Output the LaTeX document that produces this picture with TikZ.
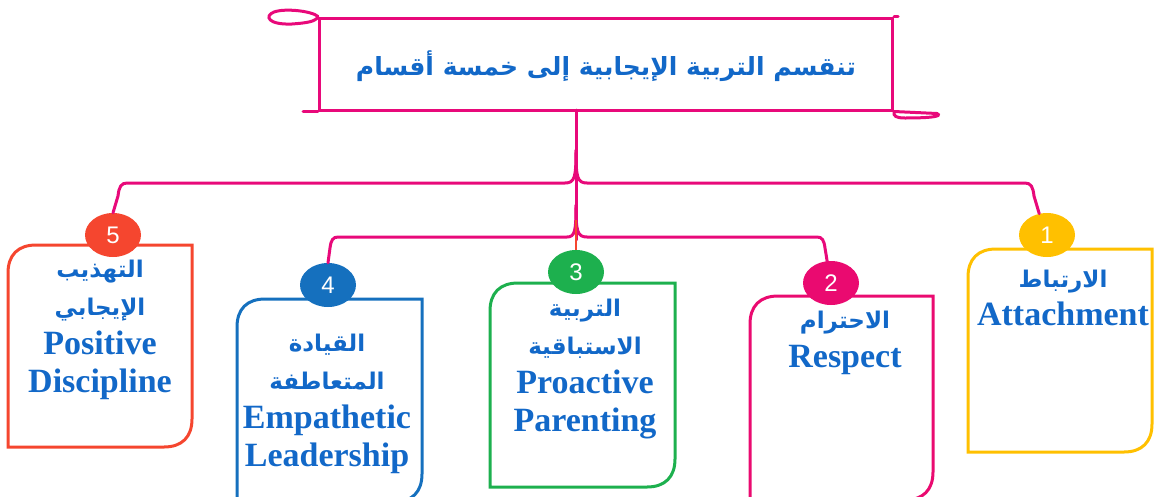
\documentclass[tikz,border=0pt]{standalone}
\usepackage{fontspec}
\setmainfont{Liberation Serif}
\newfontfamily\arabicfont[Script=Arabic]{DejaVu Sans}
\newfontfamily\numfont{Liberation Sans}
\TeXXeTstate=1
\usetikzlibrary{positioning,calc,shapes.geometric}

\definecolor{linkpink}{HTML}{E8097A}
\definecolor{textblue}{HTML}{1268C8}
\definecolor{partyellow}{HTML}{FFC000}
\definecolor{partpink}{HTML}{EA0A70}
\definecolor{partgreen}{HTML}{1DB04E}
\definecolor{partblue}{HTML}{1570BE}
\definecolor{partred}{HTML}{F5462F}

\newcommand{\artext}[2][23]{{\arabicfont\bfseries\fontsize{#1}{38.5}\selectfont\beginR #2\endR}}

% frame with rounded top-left and bottom-right corners
\newcommand{\partframe}[2]{%
  \draw[partline,#2] (#1.south west) -- ($(#1.north west)+(0,28)$)
    .. controls ($(#1.north west)+(0,10)$) and ($(#1.north west)+(10,0)$) .. ($(#1.north west)+(28,0)$)
    -- (#1.north east) -- ($(#1.south east)+(0,-28)$)
    .. controls ($(#1.south east)+(0,-10)$) and ($(#1.south east)+(-10,0)$) .. ($(#1.south east)+(-28,0)$)
    -- cycle;}

\begin{document}
\begin{tikzpicture}[x=1pt,y=-1pt,
  link/.style={linkpink,line width=3pt,line cap=round},
  partline/.style={line width=3pt,line join=miter},
  partbox/.style={minimum width=184pt,minimum height=203pt,inner sep=0pt,outer sep=0pt},
  badge/.style={ellipse,fill=#1,minimum width=56pt,minimum height=44pt,inner sep=0pt,
    text=white,font=\numfont\fontsize{24}{24}\selectfont},
  parttext/.style={text=textblue,align=center,inner sep=0pt,font=\bfseries\fontsize{34}{38.5}\selectfont}]
\useasboundingbox (0,0) rectangle (1159,496);

% title
\node[draw=linkpink,line width=3pt,minimum width=573pt,minimum height=92pt,inner sep=0pt] (title) at (606,64) {};
\node[text=textblue] (titletext) at (606,66) {\artext[25]{تنقسم التربية الإيجابية إلى خمسة أقسام}};
\draw[link] (title.north west) .. controls (312,11) and (285,8) .. (274,12)
  .. controls (264,16) and (268,25) .. (292,24) .. controls (305,23) and (316,22) .. (title.north west);
\draw[link] (title.north east) -- ++(4,0);
\draw[link] (title.south west) -- ++(-15,0);
\draw[link] (title.south east) -- ++(43,2) .. controls ++(6,3) and (930,118) .. (905,118)
  .. controls (896,118) and (893,116) .. (title.south east);

% boxes
\node[partbox,minimum width=184pt,minimum height=202pt] (b5) at (100,346) {};
\node[partbox,minimum width=185pt] (b4) at (329.5,400.5) {};
\node[partbox,minimum width=185pt,minimum height=204pt] (b3) at (582.5,385) {};
\node[partbox,minimum width=183pt,minimum height=204pt] (b2) at (841.5,398) {};
\node[partbox] (b1) at (1060,350.5) {};
\partframe{b5}{partred}
\partframe{b4}{partblue}
\partframe{b3}{partgreen}
\partframe{b2}{partpink}
\partframe{b1}{partyellow}

\node[parttext] (t5) at (100,330) {\artext{التهذيب}\\\artext{الإيجابي}\\Positive\\Discipline};
\node[parttext] (t4) at (327,404) {\artext{القيادة}\\\artext{المتعاطفة}\\Empathetic\\Leadership};
\node[parttext] (t3) at (585,369) {\artext{التربية}\\\artext{الاستباقية}\\Proactive\\Parenting};
\node[parttext] (t2) at (845,343) {\artext{الاحترام}\\Respect};
\node[parttext] (t1) at (1063,298) {\artext{الارتباط}\\Attachment};

% connectors
\coordinate (root) at (576,110);
\coordinate (splitA) at (576,150);
\coordinate (splitB) at (576,205);
\node[badge=partred] (n5) at (113,235) {5};
\node[badge=partblue] (n4) at (328,285) {4};
\node[badge=partgreen] (n3) at (576,272) {3};
\node[badge=partpink] (n2) at (831,283) {2};
\node[badge=partyellow] (n1) at (1047,235) {1};

\begin{scope}[on background layer/.try]
\draw[link] (root) -- (576,240);
\draw[link] (splitA) .. controls (576,177) and (575,183) .. (565,183) -- (127,183)
  .. controls (121,183) and (119,187) .. (118,196) -- (n5.north);
\draw[link] (splitA) .. controls (576,177) and (577,183) .. (587,183) -- (1025,183)
  .. controls (1031,183) and (1033,187) .. (1034,196) -- (n1.110);
\draw[link] (splitB) .. controls (576,231) and (575,237) .. (567,237) -- (338,237)
  .. controls (333,237) and (331,240) .. (330,248) -- (n4.north);
\draw[link] (splitB) .. controls (576,231) and (577,237) .. (587,237) -- (817,237)
  .. controls (822,237) and (824,240) .. (825,248) -- (n2.100);
\draw[partred,line width=1.2pt] (576,220) -- (n3.north);
\end{scope}
\end{tikzpicture}
\end{document}
